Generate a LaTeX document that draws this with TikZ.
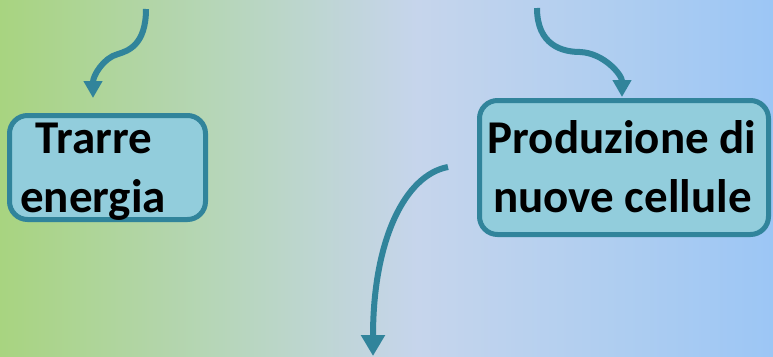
\documentclass[tikz,border=0pt]{standalone}
\usepackage{fontspec}
\setmainfont{Carlito}
\usetikzlibrary{arrows.meta}
\definecolor{bgL}{RGB}{168,212,128}
\definecolor{bgA}{RGB}{184,214,192}
\definecolor{bgM}{RGB}{198,213,236}
\definecolor{bgB}{RGB}{176,206,240}
\definecolor{bgR}{RGB}{156,198,245}
\definecolor{teal}{RGB}{49,132,155}
\definecolor{boxfill}{RGB}{146,205,220}
\pgfdeclarehorizontalshading{bgshade}{100bp}{color(0bp)=(bgL); color(25bp)=(bgL); color(41bp)=(bgA); color(52bp)=(bgM); color(64bp)=(bgB); color(75bp)=(bgR); color(100bp)=(bgR)}
\tikzset{
  box/.style={draw=teal, fill=boxfill, line width=5pt, rounded corners=18pt, inner sep=0pt},
  lbl/.style={anchor=base, inner sep=0pt, font=\fontsize{47}{58}\selectfont\bfseries, text=black},
  conn/.style={draw=teal, line width=6pt},
  tipS/.style={-{Triangle[width=18pt,length=17pt]}},
  tipL/.style={-{Triangle[width=23pt,length=21pt]}}
}
\begin{document}
\begin{tikzpicture}[x=1pt,y=-1pt]
\useasboundingbox (0,0) rectangle (773,356);
\shade[shading=bgshade] (0,0) rectangle (773,356);
% boxes
\node[box, minimum width=196pt, minimum height=104pt] (tr) at (107.5,167.5) {};
\node[box, minimum width=289pt, minimum height=134pt] (pr) at (624,167.5) {};
% texts
\node[lbl] (tra) at (94,153) {Trarre};
\node[lbl] (trb) at (93,212) {energia};
\node[lbl] (pra) at (622,153) {Produzione di};
\node[lbl] (prb) at (622.5,212) {nuove cellule};
% arrow end points
\coordinate (a1s) at (146,9);
\coordinate (a1e) at (93,98);
\coordinate (a2s) at (537,8);
\coordinate (a2e) at (622,97);
\coordinate (a3s) at (448,167);
\coordinate (a3e) at (373,356);
% arrows
\draw[conn, tipS] (a1s) .. controls +(0,36) and +(10,-3) .. (118,54) .. controls +(-15,4) and +(0,-22) .. (a1e);
\draw[conn, tipS] (a2s) .. controls +(0,37) and +(-18,0) .. (580,52) .. controls +(24,1) and +(0,-22) .. (a2e);
\draw[conn, tipL] (a3s) .. controls (405,175) and (373,240) .. (a3e);
\end{tikzpicture}
\end{document}
